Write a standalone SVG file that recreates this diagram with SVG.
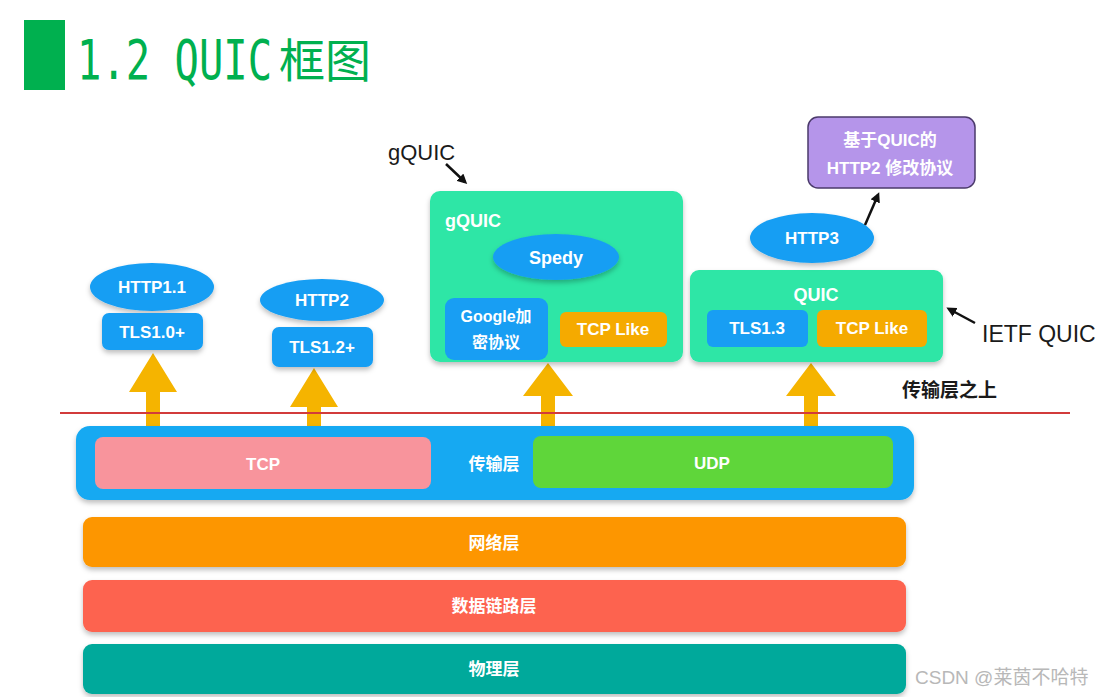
<svg xmlns="http://www.w3.org/2000/svg" width="1111" height="697" viewBox="0 0 1111 697">
<style>
.w{fill:#fff;font-family:"Liberation Sans","Noto Sans CJK SC",sans-serif;font-weight:bold;text-anchor:middle}
.b{fill:#1a1a1a;font-family:"Liberation Sans","Noto Sans CJK SC",sans-serif}
.blue{fill:#189ef3}
.grn{fill:#2de6a6}
.org{fill:#f5aa00}
.yarr{fill:#f5b400}
.ln{stroke:#111;stroke-width:2.5;fill:none;marker-end:url(#ah)}
</style>
<defs>
<marker id="ah" markerWidth="10" markerHeight="10" refX="7" refY="5" orient="auto" markerUnits="userSpaceOnUse">
<path d="M0,0 L10,5 L0,10 Z" fill="#111"/>
</marker>
<filter id="sh" x="-20%" y="-20%" width="140%" height="160%">
<feDropShadow dx="0" dy="3" stdDeviation="2.5" flood-color="#000" flood-opacity="0.25"/>
</filter>
</defs>
<rect width="1111" height="697" fill="#fff"/>
<g id="title">
<rect x="24" y="20" width="41" height="70" fill="#00b04f"/>
<text transform="translate(77,79) scale(1,1.35)" x="0" y="0" font-family="DejaVu Sans Mono,monospace" font-size="40.5" fill="#00b04f">1.2 QUIC</text>
<text x="279" y="77" font-family="Noto Sans CJK SC,sans-serif" font-size="46" fill="#00b04f">框图</text>
</g>
<g id="arrows-up">
<path class="yarr" d="M153,353 L177,392 L160,392 L160,430 L146,430 L146,392 L129,392 Z"/>
<path class="yarr" d="M314,368 L338,407 L321,407 L321,430 L307,430 L307,407 L290,407 Z"/>
<path class="yarr" d="M548,363 L573,396 L555,396 L555,430 L541,430 L541,396 L523,396 Z"/>
<path class="yarr" d="M811,363 L836,396 L818,396 L818,430 L804,430 L804,396 L786,396 Z"/>
</g>
<g id="redline">
<line x1="60" y1="413" x2="1070" y2="413" stroke="#d23b3b" stroke-width="2"/>
</g>
<g id="transport">
<rect x="76" y="426" width="838" height="74" rx="14" fill="#14a9f2" filter="url(#sh)"/>
<rect x="95" y="437" width="336" height="52" rx="8" fill="#f8949c"/>
<text class="w" x="263" y="470" font-size="17">TCP</text>
<text class="w" x="494" y="470" font-size="17">传输层</text>
<rect x="533" y="436" width="360" height="52" rx="8" fill="#5fd63a"/>
<text class="w" x="712" y="469" font-size="17">UDP</text>
</g>
<g id="network">
<rect x="83" y="517" width="823" height="50" rx="9" fill="#fd9603" filter="url(#sh)"/>
<text class="w" x="494" y="549" font-size="17">网络层</text>
</g>
<g id="datalink">
<rect x="83" y="580" width="823" height="52" rx="9" fill="#fd6450" filter="url(#sh)"/>
<text class="w" x="494" y="612" font-size="17">数据链路层</text>
</g>
<g id="physical">
<rect x="83" y="644" width="823" height="50" rx="9" fill="#05a99b" filter="url(#sh)"/>
<text class="w" x="494" y="675" font-size="17">物理层</text>
</g>
<g id="http11">
<ellipse class="blue" cx="152" cy="287" rx="62" ry="24" filter="url(#sh)"/>
<text class="w" x="152" y="293" font-size="17">HTTP1.1</text>
</g>
<g id="tls10">
<rect class="blue" x="102" y="313" width="101" height="37" rx="7" filter="url(#sh)"/>
<text class="w" x="152" y="338" font-size="17">TLS1.0+</text>
</g>
<g id="http2">
<ellipse class="blue" cx="322" cy="300" rx="62" ry="21" filter="url(#sh)"/>
<text class="w" x="322" y="306" font-size="17">HTTP2</text>
</g>
<g id="tls12">
<rect class="blue" x="272" y="327" width="101" height="40" rx="7" filter="url(#sh)"/>
<text class="w" x="322" y="353" font-size="17">TLS1.2+</text>
</g>
<g id="gquic">
<rect class="grn" x="430" y="191" width="253" height="171" rx="10" filter="url(#sh)"/>
<text class="w" x="445" y="227" font-size="18" style="text-anchor:start">gQUIC</text>
<ellipse class="blue" cx="556" cy="257" rx="63" ry="23" filter="url(#sh)"/>
<text class="w" x="556" y="264" font-size="18">Spedy</text>
<rect class="blue" x="445" y="298" width="103" height="62" rx="9"/>
<text class="w" x="496" y="322" font-size="16">Google加</text>
<text class="w" x="496" y="348" font-size="16">密协议</text>
<rect class="org" x="560" y="312" width="107" height="35" rx="6"/>
<text class="w" x="613" y="335" font-size="17">TCP Like</text>
</g>
<g id="gquic-label">
<text class="b" x="388" y="160" font-size="22">gQUIC</text>
</g>
<g id="ietf-quic">
<rect class="grn" x="690" y="270" width="253" height="92" rx="9" filter="url(#sh)"/>
<text class="w" x="816" y="301" font-size="18">QUIC</text>
<rect class="blue" x="707" y="310" width="101" height="37" rx="6"/>
<text class="w" x="757" y="334" font-size="17">TLS1.3</text>
<rect class="org" x="817" y="310" width="110" height="37" rx="6"/>
<text class="w" x="872" y="334" font-size="17">TCP Like</text>
</g>
<g id="http3">
<ellipse class="blue" cx="812" cy="238" rx="62" ry="25" filter="url(#sh)"/>
<text class="w" x="812" y="244" font-size="17">HTTP3</text>
</g>
<g id="http2-quic">
<rect x="808" y="117" width="167" height="71" rx="10" fill="#b595ea" stroke="#4b3a6b" stroke-width="1.5"/>
<text class="w" x="890" y="146" font-size="17">基于QUIC的</text>
<text class="w" x="890" y="174" font-size="17">HTTP2 修改协议</text>
</g>
<g id="ietf-label">
<text class="b" x="982" y="342" font-size="23">IETF QUIC</text>
</g>
<g id="above-transport">
<text class="b" x="902" y="397" font-size="19" font-weight="bold">传输层之上</text>
</g>
<g id="connectors">
<line class="ln" x1="446" y1="164" x2="465" y2="182"/>
<line class="ln" x1="865" y1="225" x2="878" y2="195"/>
<line class="ln" x1="975" y1="323" x2="949" y2="309"/>
</g>
<g id="watermark">
<text x="915" y="684" font-family="Liberation Sans,Noto Sans CJK SC,sans-serif" font-size="19" fill="#b8b8b8">CSDN @莱茵不哈特</text>
</g>
</svg>
